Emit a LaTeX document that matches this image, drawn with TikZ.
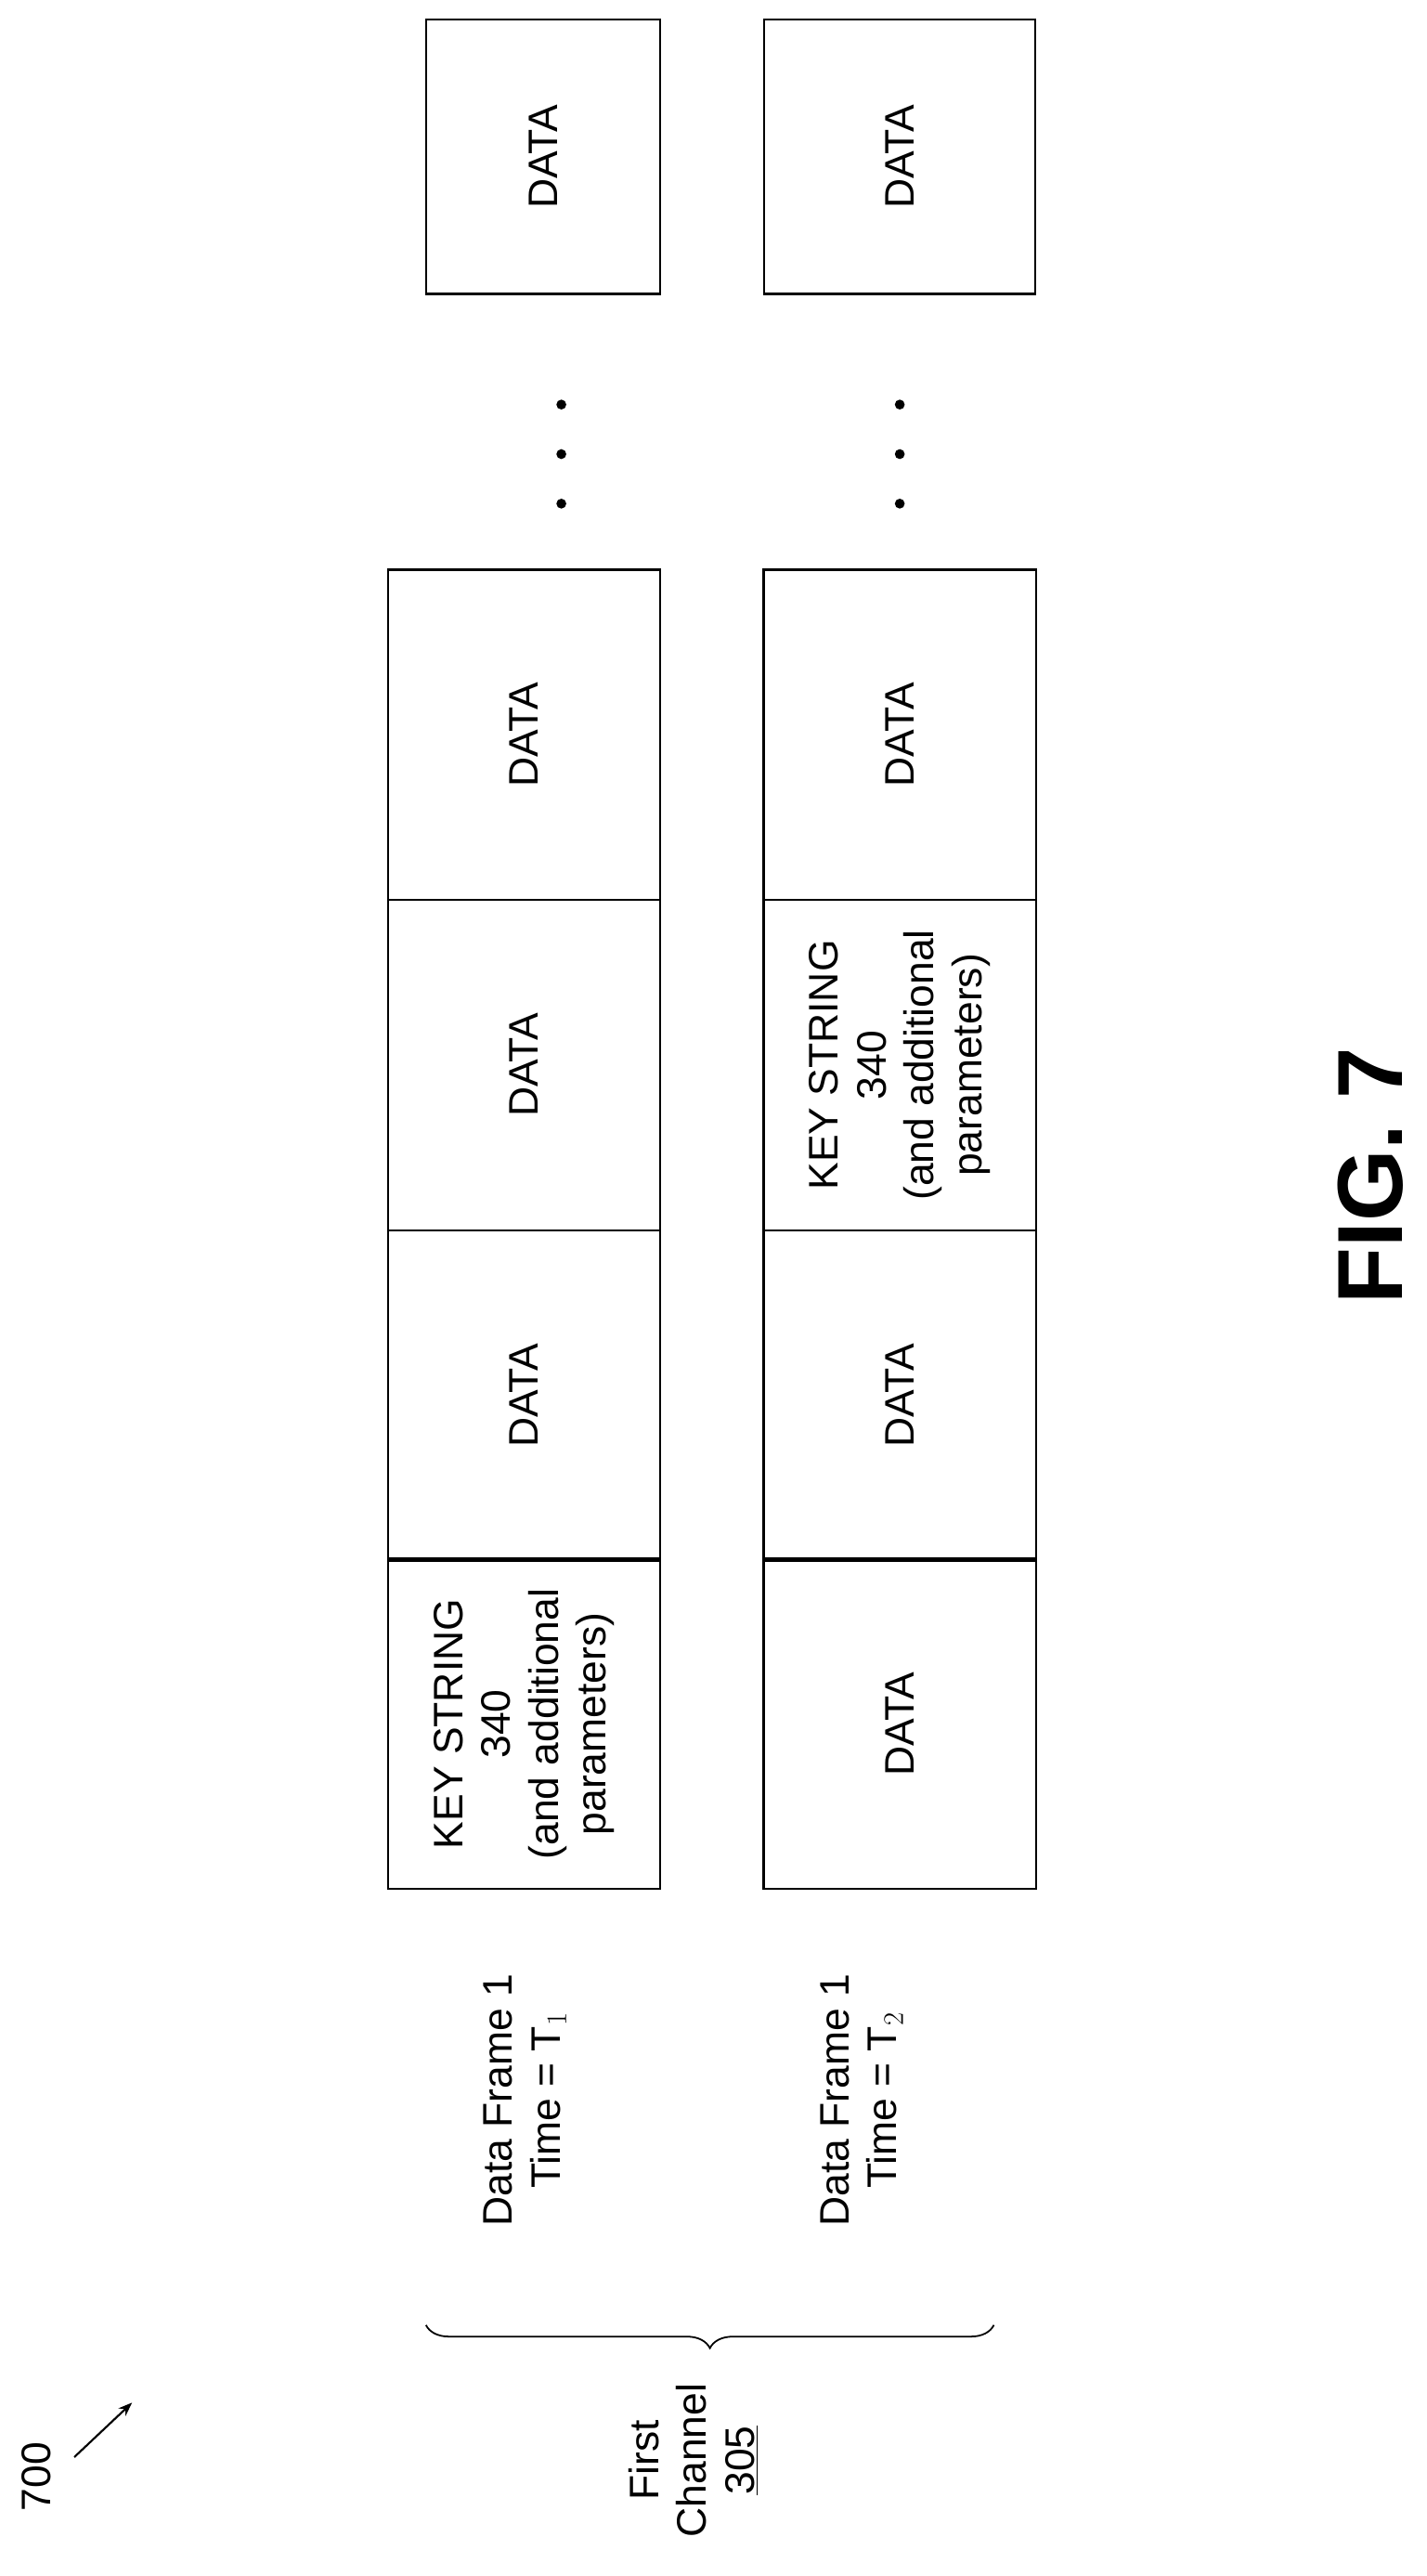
\documentclass[tikz,border=0pt]{standalone}
\usepackage{fontspec}
\setmainfont{Liberation Sans}
\usetikzlibrary{positioning, arrows.meta, decorations.pathreplacing}

\tikzset{
    field/.style={draw, line width=1.3pt, rotate=90, minimum width=200pt,
        minimum height=165pt, align=center, inner sep=0pt,
        font=\fontsize{25}{29}\selectfont},
    lbl/.style={rotate=90, align=center, font=\fontsize{25}{29}\selectfont},
}

\begin{document}
\begin{tikzpicture}[x=1pt, y=-1pt, >=Stealth]
    \useasboundingbox (0,0) rectangle (864,1560);

    % first frame
    \node[field] (k1) at (317.5,1044) {KEY STRING\\340\\(and additional\\parameters)};
    \node[field] (a2) at (317.5,845) {DATA};
    \node[field] (a3) at (317.5,645) {DATA};
    \node[field] (a4) at (317.5,445) {DATA};
    \node[field, minimum width=166pt, minimum height=142pt] (a5) at (329,95) {DATA};

    % second frame
    \node[field] (b1) at (545,1044) {DATA};
    \node[field] (b2) at (545,845) {DATA};
    \node[field] (k2) at (545,645) {KEY STRING\\340\\(and additional\\parameters)};
    \node[field] (b4) at (545,445) {DATA};
    \node[field, minimum width=166pt, minimum height=164pt] (b5) at (545,95) {DATA};

    % dots
    \foreach \y in {245,275,305} {
        \fill (340,\y) circle (3pt);
        \fill (545,\y) circle (3pt);
    }

    \node[lbl] (t1) at (318,1272) {Data Frame 1\\Time = T$_1$};
    \node[lbl] (t2) at (522,1272) {Data Frame 1\\Time = T$_2$};

    \draw[line width=1pt, decorate,
        decoration={brace, amplitude=14pt}] (602,1408) -- (258,1408);
    \node[lbl] (ch) at (420,1490) {First\\Channel\\\underline{305}};

    \node[lbl] (n700) at (22,1500) {700};
    \coordinate (tip) at (80,1455);
    \draw[->, line width=1.2pt] (45,1488) -- (tip);

    \node[rotate=90, font=\bfseries\fontsize{56}{60}\selectfont] (fig) at (830,712) {FIG. 7};
\end{tikzpicture}
\end{document}
